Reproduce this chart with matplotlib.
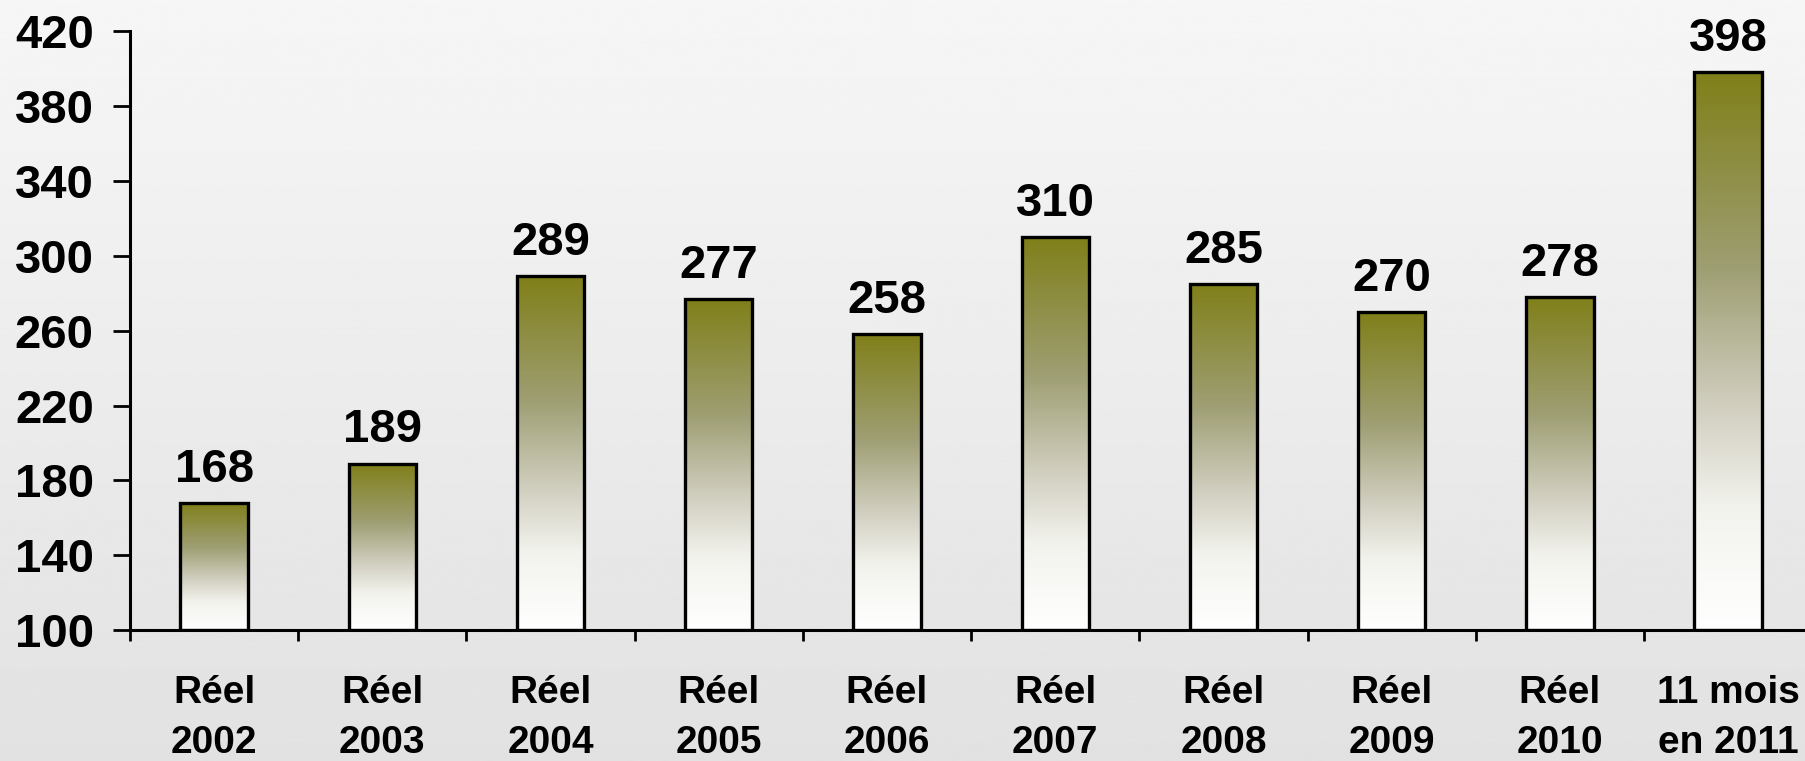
import numpy as np
import matplotlib
matplotlib.use("Agg")
import matplotlib.pyplot as plt
from matplotlib.colors import LinearSegmentedColormap

# data
labels = ["Réel\n2002", "Réel\n2003", "Réel\n2004", "Réel\n2005", "Réel\n2006",
          "Réel\n2007", "Réel\n2008", "Réel\n2009", "Réel\n2010", "11 mois\nen 2011"]
values = [168, 189, 289, 277, 258, 310, 285, 270, 278, 398]
yticks = [100, 140, 180, 220, 260, 300, 340, 380, 420]

plt.rcParams['font.family'] = ['Liberation Sans', 'DejaVu Sans']
plt.rcParams['font.weight'] = 'bold'

fig = plt.figure(figsize=(18.05, 7.61), dpi=100)

# light grey background gradient
bg = fig.add_axes([0, 0, 1, 1], zorder=-10)
grad = np.linspace(0.965, 0.885, 256).reshape(-1, 1)
bg.imshow(grad, cmap="gray", vmin=0, vmax=1, aspect="auto", extent=(0, 1, 0, 1), origin="upper")
bg.set_axis_off()

ax = fig.add_axes([0.072, 0.172, 0.932, 0.787])
ax.patch.set_alpha(0)

olive = LinearSegmentedColormap.from_list("olive", [
    (0.0, (0.50, 0.50, 0.10)),
    (0.35, (0.62, 0.62, 0.45)),
    (0.60, (0.82, 0.81, 0.75)),
    (0.78, (0.95, 0.95, 0.93)),
    (1.0, (1.0, 1.0, 1.0)),
])
fill = np.linspace(0, 1, 256).reshape(-1, 1)

x = np.arange(len(values))
w = 0.40
bars = ax.bar(x, np.array(values) - 100, bottom=100, width=w, facecolor="none",
              edgecolor="black", linewidth=2.4, zorder=3)
for b, v in zip(bars, values):
    im = ax.imshow(fill, cmap=olive, aspect="auto", origin="upper",
                   extent=(b.get_x(), b.get_x() + w, 100, v), zorder=2)
    im.set_clip_path(b)
    ax.annotate(str(v), (b.get_x() + w / 2, v), xytext=(0, 8), textcoords="offset points",
                ha="center", va="bottom", fontsize=34, fontweight="bold")

ax.set_xlim(-0.5, len(values) - 0.5)
ax.set_ylim(100, 420)
ax.set_yticks(yticks)
ax.set_yticklabels([str(t) for t in yticks])
ax.set_xticks(x)
ax.set_xticklabels(labels, linespacing=1.5)
ax.set_xticks(np.arange(len(values)) - 0.5, minor=True)

ax.tick_params(axis="y", length=12, width=2, pad=14, labelsize=34)
ax.tick_params(axis="x", which="major", length=0, pad=32, labelsize=28)
ax.tick_params(axis="x", which="minor", length=8, width=2)

for s in ["top", "right"]:
    ax.spines[s].set_visible(False)
ax.spines["left"].set_linewidth(2.2)
ax.spines["bottom"].set_linewidth(2.2)

fig.savefig("out.png", dpi=100)
